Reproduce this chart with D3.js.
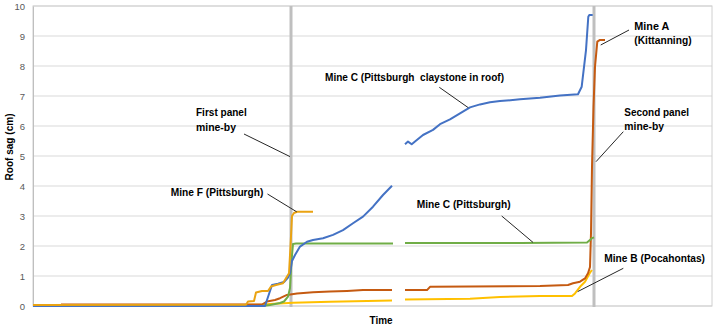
<!DOCTYPE html>
<html>
<head>
<meta charset="utf-8">
<script src="https://cdn.jsdelivr.net/npm/d3@7"></script>
<style>
  html, body { margin: 0; padding: 0; background: #fff; }
  svg { display: block; font-family: "Liberation Sans", Arial, sans-serif; }
</style>
</head>
<body>
<svg id="chart" width="715" height="327"></svg>
<script>
// Roof sag measurements over time, [time, sag cm]; null marks the gap in readings.
const mineA_Kittanning = [[28,0.05],[229,0.05],[234,0.15],[242,0.2],[247,0.26],[254,0.37],[264,0.42],[280,0.46],[297,0.48],[314,0.5],[330,0.53],[359,0.53],null,[372,0.53],[394,0.53],[397,0.64],[437,0.65],[507,0.67],[535,0.7],[540,0.76],[547,0.81],[552,0.92],[555,1.09],[557,1.3],[558,2.43],[559,4.64],[560.5,6.64],[562,7.98],[564.3,8.81],[567,8.87],[572,8.87]];
const mineB_Pocahontas = [[0,0.03],[229,0.04],[237,0.07],[260,0.11],[297,0.14],[359,0.18],null,[372,0.22],[437,0.24],[467,0.3],[507,0.33],[539,0.33],[542,0.42],[547,0.64],[552,0.81],[557,1.11],[559,1.2]];
const mineC_Pittsburgh = [[0,0],[229,0],[237,0.03],[247,0.1],[251,0.15],[255,0.31],[257,0.6],[258.5,1.5],[260,2.07],[263,2.08],[360,2.08],null,[372,2.1],[487,2.1],[554,2.12],[559,2.26],[561,2.29]];
const mineC_Claystone = [[0,0],[232,0],[235,0.3],[239,0.7],[245,0.74],[251,0.8],[255,0.95],[257,1.1],[259,1.5],[262,1.7],[267,1.98],[274,2.14],[280,2.2],[290,2.26],[300,2.37],[310,2.53],[320,2.76],[330,2.98],[340,3.31],[350,3.7],[359,4.01],null,[372,5.39],[375,5.48],[378.7,5.39],[382,5.48],[390,5.7],[400,5.87],[407,6.06],[417,6.22],[427,6.42],[437,6.62],[447,6.72],[457,6.79],[467,6.83],[487,6.89],[507,6.94],[527,7.02],[545,7.06],[548.7,7.31],[553,8.53],[555.3,9.64],[556.3,9.7],[559.7,9.7]];
const mineF_Pittsburgh = [[0,0.03],[213,0.04],[215,0.15],[221,0.17],[223,0.45],[229,0.5],[235,0.5],[238,0.65],[243,0.7],[250,0.76],[254,0.98],[256,1.09],[257.5,2.0],[259,3.0],[261,3.1],[264,3.14],[280,3.14]];

// Panel mine-by events (time)
const panelMineBy = [258, 561];

const yTicks = [0,1,2,3,4,5,6,7,8,9,10];
const timeRange = [0, 679];

const svg = d3.select("#chart");
const margin = { left: 33, right: 3, top: 6, bottom: 21 };
const W = 715, H = 327;

const x = d3.scaleLinear().domain(timeRange).range([margin.left, W - margin.right]);
const y = d3.scaleLinear().domain([0, 10]).range([H - margin.bottom, margin.top]);

// Gridlines
svg.append("g")
  .selectAll("line").data(yTicks).join("line")
  .attr("x1", x(timeRange[0])).attr("x2", x(timeRange[1]))
  .attr("y1", d => y(d)).attr("y2", d => y(d))
  .attr("stroke", "#d9d9d9").attr("stroke-width", 1);

// Plot frame
svg.append("rect")
  .attr("x", x(timeRange[0])).attr("y", y(10))
  .attr("width", x(timeRange[1]) - x(timeRange[0]))
  .attr("height", y(0) - y(10))
  .attr("fill", "none").attr("stroke", "#d0d0d0").attr("stroke-width", 1);

// Y axis
const yAxis = d3.axisLeft(y).tickValues(yTicks).tickSize(0).tickPadding(8).tickFormat(d3.format("d"));
const gy = svg.append("g").attr("transform", `translate(${x(timeRange[0])},0)`).call(yAxis);
gy.select(".domain").attr("stroke", "#bfbfbf");
gy.selectAll("text").attr("fill", "#595959").attr("font-size", 9.5).attr("font-family", "Liberation Sans, Arial, sans-serif");

// Panel mine-by markers
svg.append("g")
  .selectAll("line").data(panelMineBy).join("line")
  .attr("x1", d => x(d)).attr("x2", d => x(d))
  .attr("y1", y(10)).attr("y2", y(0) + 1)
  .attr("stroke", "#bfbfbf").attr("stroke-width", 3);

// Series
const series = [
  { data: mineB_Pocahontas, color: "#ffc000" },
  { data: mineA_Kittanning, color: "#c55a11" },
  { data: mineC_Pittsburgh, color: "#70ad47" },
  { data: mineC_Claystone, color: "#4472c4" },
  { data: mineF_Pittsburgh, color: "#eaa312" }
];

const line = d3.line()
  .defined(d => d !== null)
  .x(d => x(d[0]))
  .y(d => y(d[1]));

svg.append("g")
  .selectAll("path").data(series).join("path")
  .attr("d", s => line(s.data))
  .attr("fill", "none")
  .attr("stroke", s => s.color)
  .attr("stroke-width", 2)
  .attr("stroke-linejoin", "round");

// Axis titles
svg.append("text")
  .attr("transform", `translate(9,147) rotate(-90)`)
  .attr("text-anchor", "middle").attr("dy", "0.35em")
  .attr("font-size", 11.5).attr("font-weight", "bold").attr("fill", "#000")
  .attr("textLength", 67).attr("lengthAdjust", "spacingAndGlyphs")
  .text("Roof sag (cm)");

svg.append("text")
  .attr("x", 381).attr("y", 320)
  .attr("text-anchor", "middle").attr("dy", "0.35em")
  .attr("font-size", 11.5).attr("font-weight", "bold").attr("fill", "#000")
  .attr("textLength", 23).attr("lengthAdjust", "spacingAndGlyphs")
  .text("Time");

// Annotations: text lines at a layout position, leader to a point on the chart
const annotations = [
  { lines: [["First panel", 50.7], ["mine-by", 40]], tx: 196, ty: 112.3, from: [244, 134], to: [257, 4.98] },
  { lines: [["Mine F (Pittsburgh)", 92.7]], tx: 170.7, ty: 192.3, from: [267.5, 194], to: [263.7, 3.14] },
  { lines: [["Mine C (Pittsburgh  claystone in roof)", 179]], tx: 325, ty: 76.7, from: [439.3, 87.3], to: [435.3, 6.61] },
  { lines: [["Mine C (Pittsburgh)", 94]], tx: 416.7, ty: 204.3, from: [501.7, 216], to: [500, 2.12] },
  { lines: [["Mine A", 35], ["(Kittanning)", 57.3]], tx: 634.3, ty: 25.7, from: [629, 30], to: [567.7, 8.7] },
  { lines: [["Second panel", 64.7], ["mine-by", 39.7]], tx: 624.3, ty: 111.7, from: [623.3, 131.7], to: [563, 4.81] },
  { lines: [["Mine B (Pocahontas)", 100.7]], tx: 604.3, ty: 258.3, from: [623.3, 268.3], to: [544.7, 0.48] }
];

const ann = svg.append("g");
annotations.forEach(a => {
  ann.append("line")
    .attr("x1", a.from[0]).attr("y1", a.from[1])
    .attr("x2", x(a.to[0])).attr("y2", y(a.to[1]))
    .attr("stroke", "#262626").attr("stroke-width", 1);
  a.lines.forEach((ln, i) => {
    ann.append("text")
      .attr("x", a.tx).attr("y", a.ty + i * 14.5)
      .attr("dy", "0.35em")
      .attr("font-size", 11.5).attr("font-weight", "bold").attr("fill", "#000")
      .attr("textLength", ln[1]).attr("lengthAdjust", "spacingAndGlyphs")
      .style("white-space", "pre")
      .text(ln[0]);
  });
});
</script>
</body>
</html>
